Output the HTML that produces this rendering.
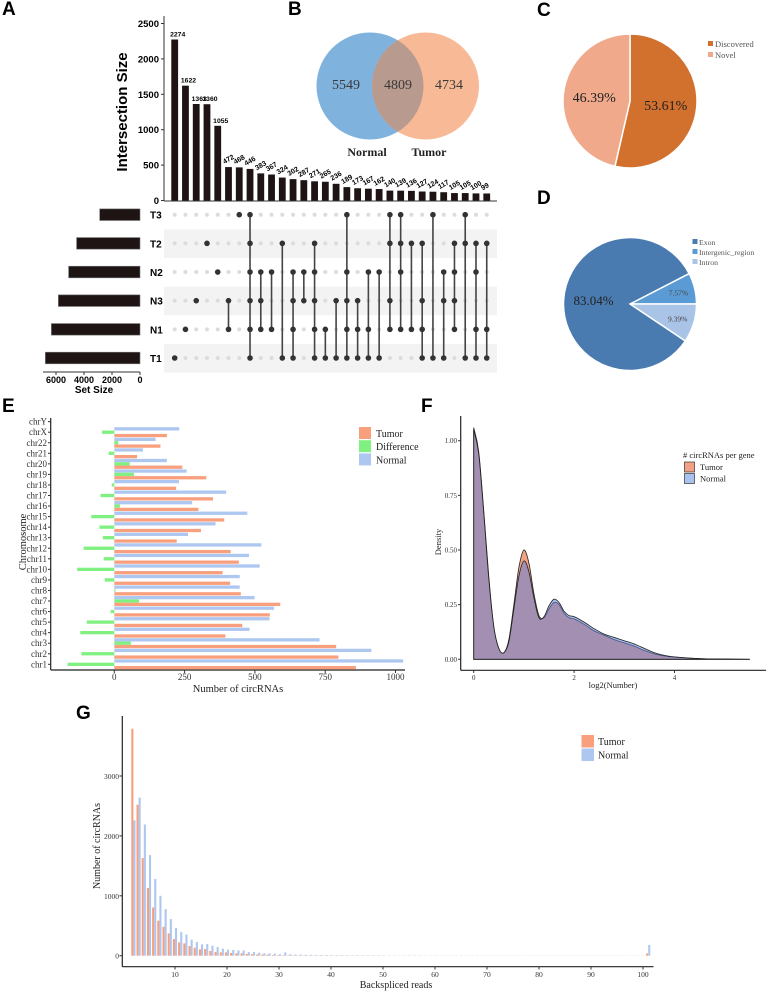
<!DOCTYPE html>
<html><head><meta charset="utf-8"><style>
html,body{margin:0;padding:0;background:#fff;}
svg{display:block;}
.sans{font-family:"Liberation Sans",sans-serif;}
.serif{font-family:"Liberation Serif",serif;}
</style></head><body>
<svg id="fig" width="767" height="991" viewBox="0 0 767 991" xmlns="http://www.w3.org/2000/svg"></svg>
<script>
// ---------- Panel A data ----------
const upsetValues=[2274,1622,1363,1360,1055,472,468,446,383,367,324,302,287,271,265,236,189,173,167,162,140,139,136,127,124,117,105,105,100,99];
const setNames=['T3','T2','N2','N3','N1','T1'];
const setSizes=[2880,4530,5100,5830,6330,6760];
const memberships=['5','4','3','1','2','3,4','0','0,1,2,3,4,5','2,3,4','2,4','1,5','2,3,4,5','2,3','1,2,3,4,5','4,5','3,5','0,2,3,4,5','3,4,5','2,4,5','2,5','0,1,3,4','0,1,2,4','1,4','1,3,4,5','0,5','2,3,5','1,2,3,4','0,1,5','1,2,4,5','1,4,5'];
const upsetTicks=[0,500,1000,1500,2000,2500];
const setTicks=[6000,4000,2000,0];
// ---------- Panel B ----------
const vennCounts=[5549,4809,4734];
// ---------- Panel C / D ----------
const pieCLabels=['Discovered','Novel'];
const pieCValues=[53.61,46.39];
const pieDLabels=['Exon','Intergenic_region','Intron'];
const pieDValues=[83.04,7.57,9.39];
// ---------- Panel E ----------
const chromosomes=['chr1','chr2','chr3','chr4','chr5','chr6','chr7','chr8','chr9','chr10','chr11','chr12','chr13','chr14','chr15','chr16','chr17','chr18','chr19','chr20','chr21','chr22','chrX','chrY'];
const chrNormal=[1027,914,730,481,552,568,499,446,446,517,479,523,262,360,473,277,398,230,257,187,102,147,231,0];
const chrTumor=[859,797,789,395,455,553,590,450,412,385,443,414,222,308,391,299,351,220,327,242,81,164,187,0];
const chrDiff=[-166,-117,59,-121,-98,-13,88,4,-34,-132,-38,-109,-41,-53,-82,20,-49,-9,70,55,-20,14,-44,0];
const chrTicks=[0,250,500,750,1000];
// ---------- Panel F ----------
const densX=[0,0.1,0.2,0.3,0.4,0.5,0.6,0.7,0.8,0.9,1.0,1.1,1.2,1.3,1.4,1.5,1.6,1.7,1.8,1.9,2.0,2.2,2.4,2.6,2.8,3.0,3.2,3.4,3.6,3.8,4.0,4.5,5.0,5.5];
const densTumor=[1.06,0.95,0.68,0.38,0.15,0.05,0.03,0.09,0.25,0.42,0.50,0.44,0.30,0.20,0.19,0.23,0.26,0.25,0.21,0.19,0.185,0.16,0.13,0.11,0.09,0.075,0.06,0.04,0.025,0.015,0.01,0.003,0.001,0];
const densNormal=[1.05,0.94,0.67,0.37,0.15,0.05,0.03,0.08,0.23,0.38,0.45,0.40,0.28,0.19,0.195,0.245,0.275,0.26,0.22,0.20,0.195,0.17,0.14,0.115,0.10,0.085,0.07,0.05,0.03,0.018,0.011,0.003,0.001,0];
const densYTicks=[0,0.25,0.5,0.75,1.0];
const densYLabels=['0.00','0.25','0.50','0.75','1.00'];
const densXTicks=[0,2,4];
// ---------- Panel G ----------
const readsStart=2;
const readsTumor=[3790,2520,1630,1130,805,585,483,372,278,222,205,161,133,105,111,78,61,56,56,45,40,40,30,25,22,20,18,12,10,8,8,7,6,6,5,5,5,4,4,4,4,3,3,3,3,3,3,3,2,2,2,2,2,2,2,2,2,2,2,2,2,2,2,2,2,2,2,2,2,2,2,2,2,2,2,2,2,2,2,2,2,2,2,2,2,2,2,2,2,2,2,2,2,2,2,2,2,2,2,39];
const readsNormal=[2260,2640,2190,1680,1280,1000,778,611,461,394,355,267,228,189,194,167,144,117,100,95,90,88,60,60,50,40,38,35,25,55,25,20,18,15,14,13,12,11,10,10,9,9,8,8,7,7,7,6,6,6,5,5,5,5,5,5,4,4,4,4,4,4,4,4,4,4,4,4,3,3,3,3,3,3,3,3,3,3,3,3,3,3,3,3,3,3,3,3,3,3,3,3,3,3,3,3,3,3,3,178];
const readsTicks=[10,20,30,40,50,60,70,80,90,100];
const countTicks=[0,1000,2000,3000];

const NS='http://www.w3.org/2000/svg';
const svg=document.getElementById('fig');
function mk(tag,attrs,parent,text){
  const el=document.createElementNS(NS,tag);
  for(const k in attrs) el.setAttribute(k,attrs[k]);
  if(text!==undefined) el.textContent=text;
  (parent||svg).appendChild(el);
  return el;
}
function grp(name){
  const g=mk('g',{});
  
  
  return g;
}
let el;
const letters=[['A',2,15],['B',288,15],['C',537,16],['D',537,204],['E',2,412],['F',421,412],['G',76,719]];
const gL=grp('panel-labels');
letters.forEach(l=>{
  el=mk('text',{x:l[1],y:l[2],'font-size':19,'font-weight':'bold',class:'sans',fill:'#000'},gL,l[0]);
  
  
});

// ===== Panel A =====
const gA=grp('upset-plot');
const yA=v=>200.5-v*177/2500;
const xA=i=>174.7+i*10.76;
const rowY=r=>214.7+r*28.66;
const xS=v=>140-v*0.014;
[1,3,5].forEach(r=>{
  el=mk('rect',{x:164,y:rowY(r)-14,width:333,height:28.6,fill:'#f3f3f3'},gA);
  
  
});
el=mk('line',{x1:164,y1:16,x2:164,y2:201,stroke:'#333','stroke-width':1},gA);


el=mk('line',{x1:164,y1:201,x2:497,y2:201,stroke:'#333','stroke-width':1},gA);


upsetTicks.forEach(t=>{
  el=mk('text',{x:159,y:yA(t)+3.5,'font-size':9.5,'font-weight':'bold','text-anchor':'end',class:'sans'},gA,String(t));
  
  
  mk('line',{x1:161,x2:164,y1:yA(t),y2:yA(t),stroke:'#333'},gA);
});
el=mk('text',{x:0,y:0,'font-size':15,'font-weight':'bold',class:'sans','text-anchor':'middle',transform:'translate(127,112) rotate(-90)'},gA,'Intersection Size');


upsetValues.forEach((v,i)=>{
  const x=xA(i);
  el=mk('rect',{x:x-3.4,y:yA(v),width:6.8,height:200.5-yA(v),fill:'#1f1414'},gA);
  
  
  if(i<5){
    el=mk('text',{x:x+3,y:yA(v)-3,'font-size':6.8,'font-weight':'bold','text-anchor':'middle',class:'sans'},gA,String(v));
  }else{
    el=mk('text',{x:0,y:0,'font-size':7,'font-weight':'bold',class:'sans',transform:'translate('+(x-4)+','+(yA(v)-3)+') rotate(-30)'},gA,String(v));
  }
  
  
  const mem=memberships[i].split(',').map(Number);
  for(let r=0;r<6;r++){
    if(mem.indexOf(r)<0){
      el=mk('circle',{cx:x,cy:rowY(r),r:2,fill:'#dcdcdc'},gA);
      
      
    }
  }
  if(mem.length>1){
    el=mk('line',{x1:x,x2:x,y1:rowY(Math.min(...mem)),y2:rowY(Math.max(...mem)),stroke:'#444','stroke-width':1.6},gA);
    
    
  }
  mem.forEach(r=>{
    el=mk('circle',{cx:x,cy:rowY(r),r:2.8,fill:'#333'},gA);
    
    
  });
});
setNames.forEach((n,r)=>{
  el=mk('text',{x:150,y:rowY(r)+4,'font-size':10,'font-weight':'bold',class:'sans'},gA,n);
  
  
  el=mk('rect',{x:xS(setSizes[r]),y:rowY(r)-5.8,width:140-xS(setSizes[r]),height:11.6,fill:'#1f1414',stroke:'#777','stroke-width':0.6},gA);
  
  
});
el=mk('line',{x1:43,y1:372,x2:140,y2:372,stroke:'#333'},gA);


setTicks.forEach(t=>{
  mk('line',{x1:xS(t),x2:xS(t),y1:372,y2:375,stroke:'#333'},gA);
  el=mk('text',{x:xS(t),y:383,'font-size':9,'font-weight':'bold','text-anchor':'middle',class:'sans'},gA,String(t));
  
  
});
el=mk('text',{x:94,y:393,'font-size':10,'font-weight':'bold','text-anchor':'middle',class:'sans'},gA,'Set Size');



// ===== Panel B =====
const gB=grp('venn-diagram');
el=mk('circle',{cx:370,cy:86,r:53.5,fill:'#7fb2dc'},gB);


el=mk('circle',{cx:425.5,cy:86,r:53.5,fill:'#f8b996'},gB);


mk('clipPath',{id:'cpN'},gB);
mk('circle',{cx:370,cy:86,r:53.5},document.getElementById('cpN'));
el=mk('circle',{cx:425.5,cy:86,r:53.5,fill:'#b99a8e','clip-path':'url(#cpN)'},gB);


[[346,vennCounts[0]],[398,vennCounts[1]],[449,vennCounts[2]]].forEach(p=>{
  el=mk('text',{x:p[0],y:89,'font-size':14,'text-anchor':'middle',class:'serif',fill:'#3a3a3a'},gB,String(p[1]));
  
  
});
el=mk('text',{x:367,y:156,'font-size':12,'font-weight':'bold','text-anchor':'middle',class:'serif',fill:'#222'},gB,'Normal');


el=mk('text',{x:429,y:156,'font-size':12,'font-weight':'bold','text-anchor':'middle',class:'serif',fill:'#222'},gB,'Tumor');



// ===== Pies =====
function arc(cx,cy,r,a0,a1){
  const p0=[cx+r*Math.cos(a0),cy+r*Math.sin(a0)],p1=[cx+r*Math.cos(a1),cy+r*Math.sin(a1)];
  const large=(a1-a0)>Math.PI?1:0;
  return 'M'+cx+','+cy+'L'+p0[0]+','+p0[1]+'A'+r+','+r+' 0 '+large+' 1 '+p1[0]+','+p1[1]+'Z';
}
const gC=grp('pie-chart-c');
const cColors=['#d2702e','#f0a98b'];
let a=-Math.PI/2;
pieCValues.forEach((v,i)=>{
  const da=v/100*2*Math.PI;
  el=mk('path',{d:arc(630,101,67,a,a+da),fill:cColors[i],stroke:'#fff','stroke-width':1.5},gC);
  
  
  const mid=a+da/2;
  el=mk('text',{x:630+36*Math.cos(mid),y:101+36*Math.sin(mid)+5,'font-size':14,'text-anchor':'middle',class:'serif',fill:'#222'},gC,v.toFixed(2)+'%');
  
  
  el=mk('rect',{x:708,y:41+i*11,width:5,height:5,fill:cColors[i]},gC);
  
  
  el=mk('text',{x:715,y:47+i*11,'font-size':8.5,class:'serif',fill:'#555'},gC,pieCLabels[i]);
  
  
  a+=da;
});
const gD=grp('pie-chart-d');
const dColors=['#4a7bb0','#5b9bd5','#a9c4e6'];
const dRad=[ [0.55,'#222',13], [0.75,'#444',7.5], [0.75,'#444',7.5] ];
let aD=-pieDValues[1]/100*2*Math.PI;
const order=[1,2,0];
order.forEach(i=>{
  const da=pieDValues[i]/100*2*Math.PI;
  el=mk('path',{d:arc(630,304,66.5,aD,aD+da),fill:dColors[i],stroke:'#fff','stroke-width':1.5},gD);
  
  
  const mid=aD+da/2;const rr=66.5*dRad[i][0];
  el=mk('text',{x:630+rr*Math.cos(mid),y:304+rr*Math.sin(mid)+3,'font-size':dRad[i][2],'text-anchor':'middle',class:'serif',fill:dRad[i][1]},gD,pieDValues[i].toFixed(2)+'%');
  
  
  aD+=da;
});
pieDLabels.forEach((n,i)=>{
  el=mk('rect',{x:692.5,y:239+i*10,width:5,height:5,fill:dColors[i]},gD);
  
  
  el=mk('text',{x:699,y:245+i*10,'font-size':7.8,class:'serif',fill:'#555'},gD,n);
  
  
});

// ===== Panel E =====
const gE=grp('chromosome-bar-chart');
const xE=v=>114.3+v*0.2812;
const yE=i=>664.3-i*10.55;
el=mk('line',{x1:50.7,y1:418,x2:50.7,y2:670,stroke:'#222','stroke-width':1.2},gE);


el=mk('line',{x1:50.7,y1:670,x2:405,y2:670,stroke:'#222','stroke-width':1.2},gE);


chromosomes.forEach((c,i)=>{
  const y=yE(i);
  el=mk('text',{x:47,y:y+3,'font-size':9,'text-anchor':'end',class:'serif',fill:'#333'},gE,c);
  
  
  mk('line',{x1:48,x2:50.7,y1:y,y2:y,stroke:'#333'},gE);
  const bars=[[chrNormal[i],'#aec7f0',-5],[chrDiff[i],'#80f080',-1.65],[chrTumor[i],'#f8a07e',1.7]];
  bars.forEach((b,k)=>{
    if(b[0]===0) return;
    const x0=Math.min(xE(0),xE(b[0])),w=Math.abs(xE(b[0])-xE(0));
    el=mk('rect',{x:x0,y:y+b[2],width:w,height:3.3,fill:b[1]},gE);
    
    
  });
});
chrTicks.forEach(t=>{
  mk('line',{x1:xE(t),x2:xE(t),y1:670,y2:673,stroke:'#333'},gE);
  el=mk('text',{x:xE(t),y:680,'font-size':9,'text-anchor':'middle',class:'serif',fill:'#333'},gE,String(t));
  
  
});
el=mk('text',{x:238,y:692,'font-size':10.5,'text-anchor':'middle',class:'serif',fill:'#222'},gE,'Number of circRNAs');


el=mk('text',{x:0,y:0,'font-size':10.5,'text-anchor':'middle',class:'serif',fill:'#222',transform:'translate(26,542) rotate(-90)'},gE,'Chromosome');


[['Tumor','#f8a07e'],['Difference','#80f080'],['Normal','#aec7f0']].forEach((l,i)=>{
  el=mk('rect',{x:359,y:427+i*13.2,width:12,height:12,fill:l[1]},gE);
  
  
  el=mk('text',{x:376,y:437+i*13.2,'font-size':10,class:'serif',fill:'#222'},gE,l[0]);
  
  
});

// ===== Panel F =====
const gF=grp('density-plot');
const xF=v=>473.7+v*50.2;
const yF=d=>659.3-d*218.6;
function smooth(xs,ys){
  const P=xs.map((x,i)=>[xF(x),yF(ys[i])]);
  let d='M'+P[0][0]+','+P[0][1];
  for(let i=0;i<P.length-1;i++){
    const p0=P[i-1]||P[i],p1=P[i],p2=P[i+1],p3=P[i+2]||P[i+1];
    const c1=[p1[0]+(p2[0]-p0[0])/6,p1[1]+(p2[1]-p0[1])/6];
    const c2=[p2[0]-(p3[0]-p1[0])/6,p2[1]-(p3[1]-p1[1])/6];
    d+='C'+c1[0]+','+c1[1]+' '+c2[0]+','+c2[1]+' '+p2[0]+','+p2[1];
  }
  return d;
}
const base='L'+xF(densX[densX.length-1])+','+yF(0)+'L'+xF(0)+','+yF(0)+'Z';
el=mk('path',{d:smooth(densX,densTumor)+base,fill:'#f3a184',stroke:'#222','stroke-width':0.8},gF);


el=mk('path',{d:smooth(densX,densNormal)+base,fill:'rgba(95,130,215,0.55)',stroke:'#222','stroke-width':0.8},gF);


el=mk('line',{x1:460.7,y1:416,x2:460.7,y2:670.3,stroke:'#222','stroke-width':1.2},gF);


el=mk('line',{x1:460.7,y1:670.3,x2:766,y2:670.3,stroke:'#222','stroke-width':1.2},gF);


densYTicks.forEach((t,i)=>{
  mk('line',{x1:458,x2:460.7,y1:yF(t),y2:yF(t),stroke:'#333'},gF);
  el=mk('text',{x:457,y:yF(t)+2.5,'font-size':7,'text-anchor':'end',class:'serif',fill:'#333'},gF,densYLabels[i]);
  
  
});
densXTicks.forEach(t=>{
  mk('line',{x1:xF(t),x2:xF(t),y1:670.3,y2:673,stroke:'#333'},gF);
  el=mk('text',{x:xF(t),y:680,'font-size':7,'text-anchor':'middle',class:'serif',fill:'#333'},gF,String(t));
  
  
});
el=mk('text',{x:613,y:688,'font-size':8.5,'text-anchor':'middle',class:'serif',fill:'#222'},gF,'log2(Number)');


el=mk('text',{x:0,y:0,'font-size':8.5,'text-anchor':'middle',class:'serif',fill:'#222',transform:'translate(441,542) rotate(-90)'},gF,'Density');


el=mk('text',{x:683,y:458,'font-size':8.5,class:'serif',fill:'#222'},gF,'# circRNAs per gene');


[['Tumor','#f3a184'],['Normal','#a9c2f0']].forEach((l,i)=>{
  el=mk('rect',{x:684.5,y:462+i*11.5,width:10,height:10,fill:l[1],stroke:'#333','stroke-width':0.7},gF);
  
  
  el=mk('text',{x:700,y:470+i*11.5,'font-size':8.5,class:'serif',fill:'#222'},gF,l[0]);
  
  
});

// ===== Panel G =====
const gG=grp('backspliced-reads-histogram');
const xG=r=>123+r*5.2;
const yG=v=>955.7-v*0.0599;
readsTumor.forEach((v,i)=>{
  const r=readsStart+i;
  el=mk('rect',{x:xG(r)-2.1,y:yG(v),width:2.1,height:955.7-yG(v),fill:'#f8a07e'},gG);
  
  
  el=mk('rect',{x:xG(r),y:yG(readsNormal[i]),width:2.1,height:955.7-yG(readsNormal[i]),fill:'#aec7f0'},gG);
  
  
});
el=mk('line',{x1:122.3,y1:716,x2:122.3,y2:966.7,stroke:'#222','stroke-width':1.2},gG);


el=mk('line',{x1:122.3,y1:966.7,x2:653.5,y2:966.7,stroke:'#222','stroke-width':1.2},gG);


countTicks.forEach(t=>{
  mk('line',{x1:119.5,x2:122.3,y1:yG(t),y2:yG(t),stroke:'#333'},gG);
  el=mk('text',{x:119,y:yG(t)+3,'font-size':7.5,'text-anchor':'end',class:'serif',fill:'#333'},gG,String(t));
  
  
});
readsTicks.forEach(t=>{
  mk('line',{x1:xG(t),x2:xG(t),y1:966.7,y2:969.5,stroke:'#333'},gG);
  el=mk('text',{x:xG(t),y:977,'font-size':7.5,'text-anchor':'middle',class:'serif',fill:'#333'},gG,String(t));
  
  
});
el=mk('text',{x:396,y:988,'font-size':10,'text-anchor':'middle',class:'serif',fill:'#222'},gG,'Backspliced reads');


el=mk('text',{x:0,y:0,'font-size':10,'text-anchor':'middle',class:'serif',fill:'#222',transform:'translate(100,846) rotate(-90)'},gG,'Number of circRNAs');


[['Tumor','#f8a07e'],['Normal','#aec7f0']].forEach((l,i)=>{
  el=mk('rect',{x:581.5,y:735+i*13.5,width:12.5,height:12.5,fill:l[1]},gG);
  
  
  el=mk('text',{x:598,y:745+i*13.5,'font-size':10,class:'serif',fill:'#222'},gG,l[0]);
  
  
});
</script>
</body></html>
